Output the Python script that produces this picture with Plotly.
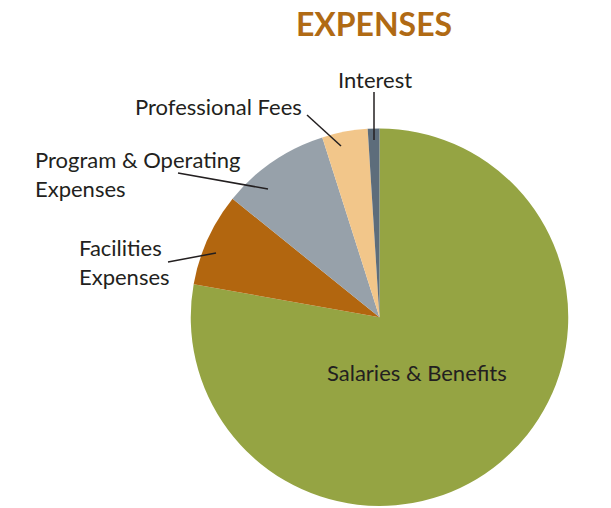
import plotly.graph_objects as go

# ---------------------------------------------------------------------------
# Data (shares of total expenses, %)
# ---------------------------------------------------------------------------
labels = [
    "Salaries & Benefits",
    "Facilities Expenses",
    "Program & Operating Expenses",
    "Professional Fees",
    "Interest",
]
values = [77.8, 8.0, 9.3, 3.9, 1.0]
colors = ["#95A443", "#B2660F", "#97A1AA", "#F2C68A", "#5D6D7B"]

W, H = 611, 508
FONT = "Lato"
TXT = "#231F20"


def px(x, y):
    """pixel coords (top-left origin) -> paper coords"""
    return x / W, 1 - y / H


fig = go.Figure(
    go.Pie(
        labels=labels,
        values=values,
        marker=dict(colors=colors, line=dict(width=0)),
        sort=False,
        direction="clockwise",
        rotation=0,
        textinfo="none",
        hoverinfo="label+percent",
        domain=dict(x=[190.5 / W, 568.5 / W], y=[1 - 506 / H, 1 - 128.5 / H]),
        showlegend=False,
    )
)

# --- outside labels --------------------------------------------------------
notes = [
    ("Interest", 375, 80, "center"),
    ("Professional Fees", 218, 107, "center"),
    ("Program & Operating<br>Expenses", 33, 174, "left"),
    ("Facilities<br>Expenses", 77, 262, "left"),
    ("Salaries & Benefits", 417, 372, "center"),
]
for text, x, y, align in notes:
    ax, ay = px(x, y)
    fig.add_annotation(
        text=text, x=ax, y=ay, xref="paper", yref="paper",
        xanchor="left" if align == "left" else "center", yanchor="middle",
        align=align, showarrow=False,
        font=dict(family=FONT, size=22, color=TXT),
    )

# leader lines
leaders = [
    ((374, 92), (374, 140)),
    ((307, 115), (341, 146)),
    ((178, 173), (268, 189)),
    ((168, 262), (216, 253)),
]
for (x0, y0), (x1, y1) in leaders:
    a0, b0 = px(x0, y0)
    a1, b1 = px(x1, y1)
    fig.add_shape(
        type="line", xref="paper", yref="paper",
        x0=a0, y0=b0, x1=a1, y1=b1,
        line=dict(color=TXT, width=1.5),
    )

fig.update_layout(
    width=W, height=H,
    margin=dict(l=0, r=0, t=0, b=0),
    paper_bgcolor="white",
    plot_bgcolor="white",
    title=dict(
        text="<b>EXPENSES</b>",
        x=374 / W, xanchor="center",
        y=1 - 25 / H, yanchor="middle",
        font=dict(family=FONT, size=32, color="#B06A14"),
    ),
)

# drop the default 8px body margin so the figure sits at the window origin
fig.write_html(
    "out.html",
    config={"displayModeBar": False},
    post_script="document.body.style.margin='0';",
)
